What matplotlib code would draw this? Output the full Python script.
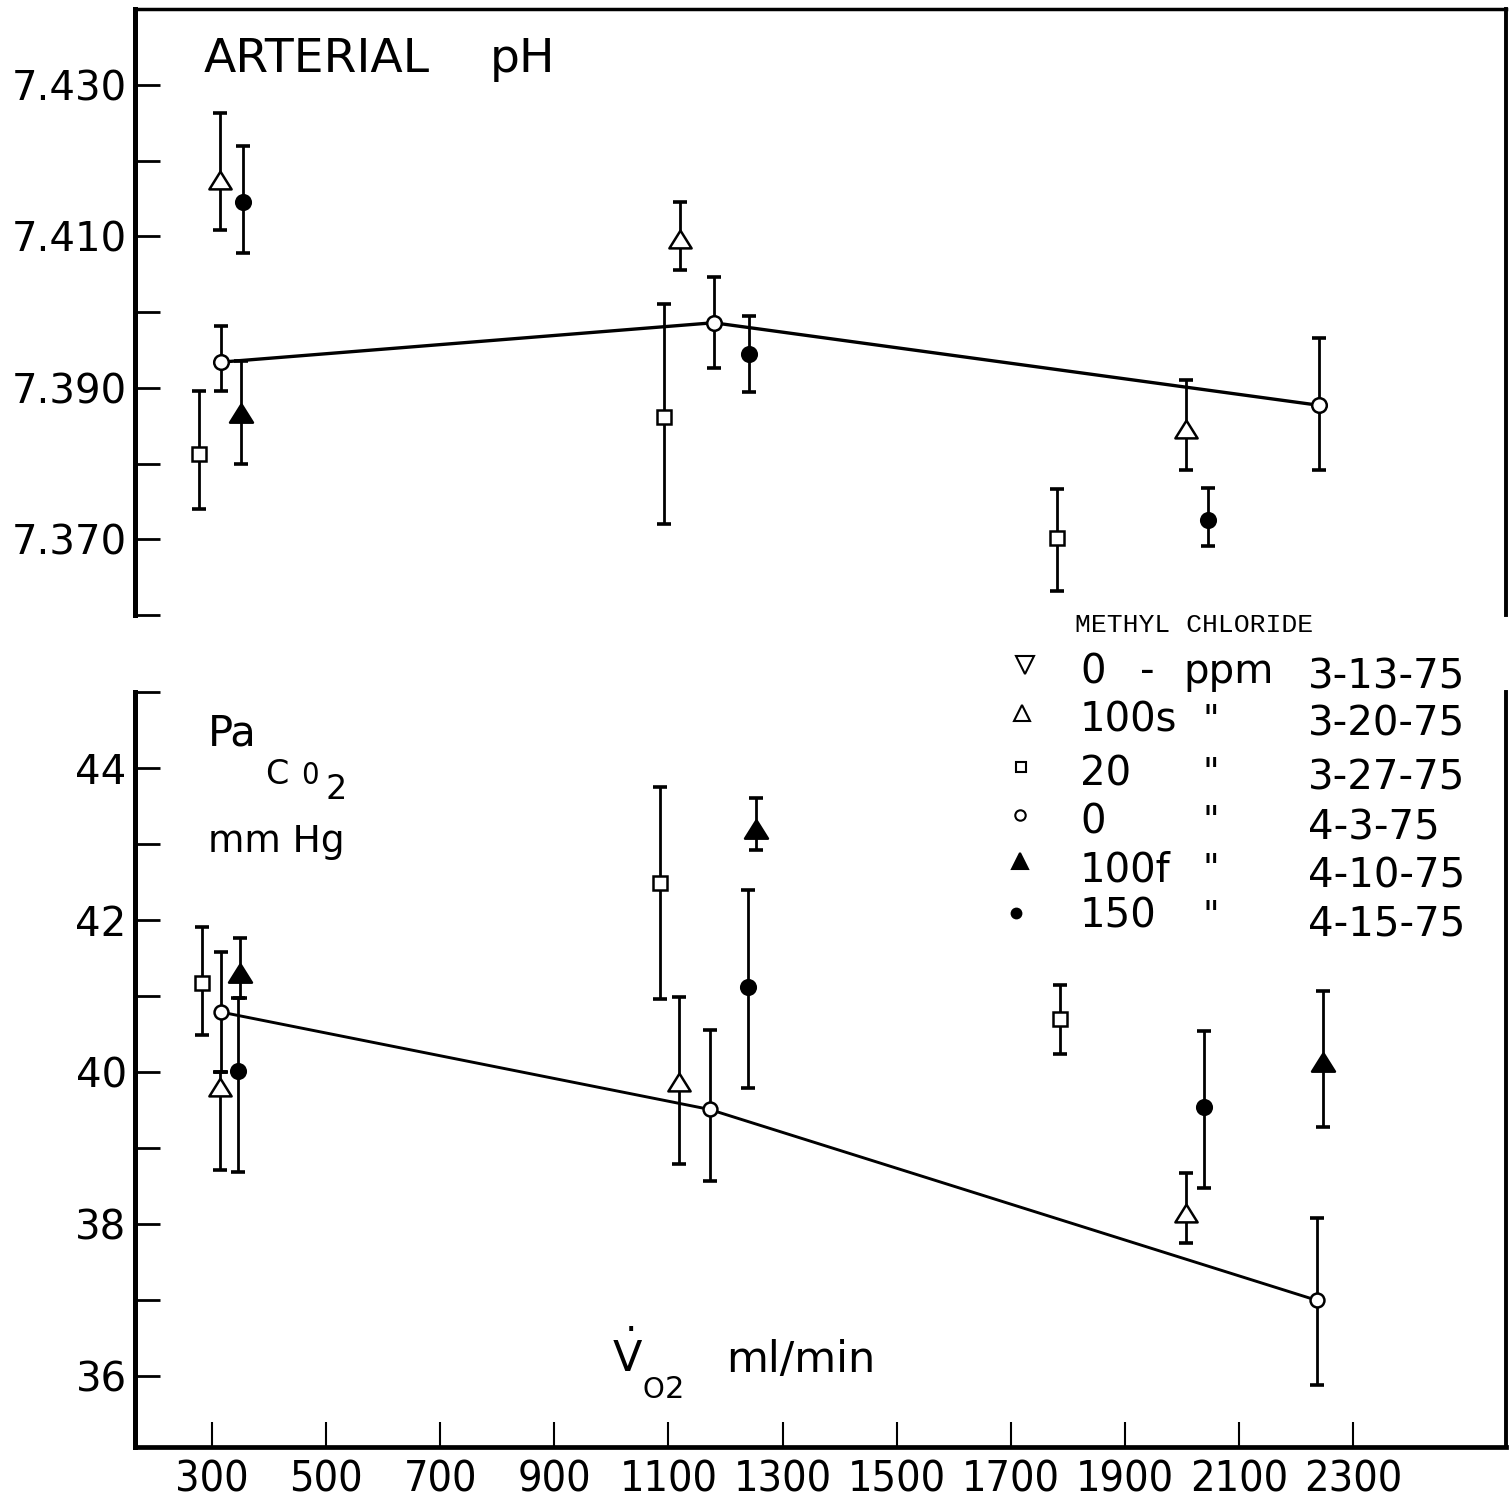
import matplotlib
matplotlib.use("Agg")
import matplotlib.pyplot as plt
from matplotlib import font_manager
from matplotlib.lines import Line2D
import numpy as np

# ---------------- data ----------------
# Arterial pH panel: x = VO2 (ml/min), y = mean, lo/hi = error bar ends
ph_sq_x = [277, 1093, 1781]          # 20 ppm, 3-27-75
ph_sq_y = [7.3813, 7.3861, 7.3702]
ph_sq_lo = [7.3740, 7.3720, 7.3632]
ph_sq_hi = [7.3896, 7.4011, 7.3766]

ph_otri_x = [314, 1120, 2007]        # 100s ppm, 3-20-75
ph_otri_y = [7.4175, 7.4097, 7.3846]
ph_otri_lo = [7.4108, 7.4056, 7.3791]
ph_otri_hi = [7.4263, 7.4145, 7.3911]

ph_ocir_x = [316, 1179, 2240]        # 0 ppm, 4-3-75
ph_ocir_y = [7.3934, 7.3986, 7.3877]
ph_ocir_lo = [7.3896, 7.3926, 7.3791]
ph_ocir_hi = [7.3982, 7.4046, 7.3966]

ph_ftri_x = [351]                    # 100f ppm, 4-10-75
ph_ftri_y = [7.3867]
ph_ftri_lo = [7.3799]
ph_ftri_hi = [7.3936]

ph_fcir_x = [354, 1242, 2046]        # 150 ppm, 4-15-75
ph_fcir_y = [7.4146, 7.3945, 7.3725]
ph_fcir_lo = [7.4078, 7.3894, 7.3691]
ph_fcir_hi = [7.4219, 7.3995, 7.3768]

# PaCO2 panel (mm Hg)
co2_sq_x = [282, 1086, 1786]
co2_sq_y = [41.17, 42.49, 40.70]
co2_sq_lo = [40.49, 40.96, 40.24]
co2_sq_hi = [41.91, 43.75, 41.15]

co2_otri_x = [314, 1118, 2008]
co2_otri_y = [39.80, 39.87, 38.15]
co2_otri_lo = [38.71, 38.79, 37.75]
co2_otri_hi = [40.00, 40.99, 38.67]

co2_ocir_x = [316, 1172, 2236]
co2_ocir_y = [40.79, 39.51, 37.00]
co2_ocir_lo = [40.00, 38.57, 35.89]
co2_ocir_hi = [41.58, 40.56, 38.08]

co2_ftri_x = [349, 1253, 2247]
co2_ftri_y = [41.31, 43.20, 40.13]
co2_ftri_lo = [40.97, 42.92, 39.28]
co2_ftri_hi = [41.76, 43.61, 41.07]

co2_fcir_x = [345, 1240, 2039]
co2_fcir_y = [40.02, 41.12, 39.54]
co2_fcir_lo = [38.69, 39.79, 38.47]
co2_fcir_hi = [40.97, 42.40, 40.54]

ph_ticks = [7.36, 7.37, 7.38, 7.39, 7.40, 7.41, 7.42, 7.43]
ph_labels = ["", "7.370", "", "7.390", "", "7.410", "", "7.430"]
co2_ticks = [36, 37, 38, 39, 40, 41, 42, 43, 44, 45]
co2_labels = ["36", "", "38", "", "40", "", "42", "", "44", ""]
vo2_ticks = [300, 500, 700, 900, 1100, 1300, 1500, 1700, 1900, 2100, 2300]
vo2_labels = [str(v) for v in vo2_ticks]

legend_title = "METHYL CHLORIDE"
legend_dose = ["0", "100s", "20", "0", "100f", "150"]
legend_dates = ["3-13-75", "3-20-75", "3-27-75", "4-3-75", "4-10-75", "4-15-75"]

# ---------------- fonts ----------------
names = {f.name for f in font_manager.fontManager.ttflist}
if "Liberation Sans Narrow" in names:
    narrow = dict(family="Liberation Sans Narrow")
else:
    narrow = dict(family="DejaVu Sans", stretch="condensed")
mono = "Liberation Mono" if "Liberation Mono" in names else "DejaVu Sans Mono"
plt.rcParams["font.family"] = ["DejaVu Sans"]
plt.rcParams["mathtext.fontset"] = "dejavusans"

W, H = 1512, 1499
fig = plt.figure(figsize=(W / 100, H / 100), dpi=100)
fig.patch.set_facecolor("white")


def fx(x):
    return x / W


def fy(y):
    return 1 - y / H


XLIM = (165, 2568)
ax1 = fig.add_axes([fx(135), fy(615), fx(1506) - fx(135), fy(9.3) - fy(615)])
ax2 = fig.add_axes([fx(135), fy(1447), fx(1506) - fx(135), fy(692) - fy(1447)])

for ax in (ax1, ax2):
    ax.set_xlim(*XLIM)
    ax.set_facecolor("none")
    for s in ax.spines.values():
        s.set_color("black")
    ax.spines["left"].set_linewidth(3.6)
    ax.spines["right"].set_linewidth(2.8)
ax1.set_ylim(7.36, 7.44)
ax2.set_ylim(35.07, 45)
ax1.spines["bottom"].set_visible(False)
ax1.spines["top"].set_linewidth(2.5)
ax2.spines["top"].set_visible(False)
ax2.spines["bottom"].set_linewidth(3.4)

ax1.set_xticks([])
ax1.set_yticks(ph_ticks)
ax1.set_yticklabels(ph_labels)
ax2.set_yticks(co2_ticks)
ax2.set_yticklabels(co2_labels)
ax2.set_xticks(vo2_ticks)
ax2.set_xticklabels(vo2_labels, **narrow)

for ax in (ax1, ax2):
    ax.tick_params(axis="y", direction="in", length=18, width=2.0, pad=6,
                   labelsize=29, right=False)
ax2.tick_params(axis="x", direction="in", length=18, width=1.5, pad=8,
                labelsize=31, top=False)


def series(ax, x, y, lo, hi, marker, filled, ms, line=False, lw=2.2):
    x = np.asarray(x, float)
    y = np.asarray(y, float)
    err = [y - np.asarray(lo), np.asarray(hi) - y]
    ax.errorbar(x, y, yerr=err, fmt="none", ecolor="black", elinewidth=2.0,
                capsize=5, capthick=2.6, zorder=2)
    if line:
        ax.plot(x, y, color="black", lw=lw, zorder=3, solid_capstyle="round")
    ax.plot(x, y, linestyle="none", marker=marker, ms=ms,
            mfc="black" if filled else "white", mec="black", mew=1.8,
            zorder=4)


# slightly flattened, closed triangle outline
tri = [(0, 0.8), (-1, -0.8), (1, -0.8), (0, 0.8)]

series(ax1, ph_sq_x, ph_sq_y, ph_sq_lo, ph_sq_hi, "s", False, 9.5)
series(ax1, ph_otri_x, ph_otri_y, ph_otri_lo, ph_otri_hi, tri, False, 16)
series(ax1, ph_ocir_x, ph_ocir_y, ph_ocir_lo, ph_ocir_hi, "o", False, 10.5,
       line=True, lw=2.4)
series(ax1, ph_ftri_x, ph_ftri_y, ph_ftri_lo, ph_ftri_hi, tri, True, 16.5)
series(ax1, ph_fcir_x, ph_fcir_y, ph_fcir_lo, ph_fcir_hi, "o", True, 10.5)

series(ax2, co2_sq_x, co2_sq_y, co2_sq_lo, co2_sq_hi, "s", False, 9.5)
series(ax2, co2_otri_x, co2_otri_y, co2_otri_lo, co2_otri_hi, tri, False, 16)
series(ax2, co2_ocir_x, co2_ocir_y, co2_ocir_lo, co2_ocir_hi, "o", False, 10,
       line=True, lw=2.1)
series(ax2, co2_ftri_x, co2_ftri_y, co2_ftri_lo, co2_ftri_hi, tri, True, 16.5)
series(ax2, co2_fcir_x, co2_fcir_y, co2_fcir_lo, co2_fcir_hi, "o", True, 10.5)


# ---------------- panel titles ----------------
def txt(x, y, s, size, **kw):
    fig.text(fx(x), fy(y), s, fontsize=size, va="baseline", ha="left", **kw)


txt(204, 72, "ARTERIAL", 34)
txt(490, 72, "pH", 34)

txt(208, 746, "Pa", 30)
txt(265, 784, "C", 24)
txt(301, 784, "0", 22, **narrow)
txt(326, 799, "2", 24)
txt(208, 852, "mm Hg", 27)

txt(612, 1372, r"$\dot{\mathrm{V}}$", 31)
txt(643, 1398, "O", 20)
txt(665, 1398, "2", 22)
txt(726, 1372, "ml/min", 31)

# ---------------- legend ----------------
txt(1075, 632, legend_title, 19, family=mono)

row_base = [683, 732, 785, 833, 881, 928]
date_base = [688, 735, 790, 840, 888, 935]
mk_pos = [(1025, 665), (1022, 713), (1021, 767), (1020, 815), (1020, 861),
          (1016, 913)]
mk_style = [("v", False, 13), ("^", False, 12), ("s", False, 7),
            ("o", False, 7.5), ("^", True, 11), ("o", True, 7)]

for i in range(6):
    mx, my = mk_pos[i]
    m, filled, ms = mk_style[i]
    fig.add_artist(Line2D([fx(mx)], [fy(my)], transform=fig.transFigure,
                          marker=m, ms=ms, mew=1.5, mec="black",
                          mfc="black" if filled else "white",
                          linestyle="none"))
    txt(1080, row_base[i], legend_dose[i], 29)
    if i == 0:
        txt(1140, row_base[i], "-", 29)
        txt(1183, row_base[i], "ppm", 29)
    else:
        txt(1203, row_base[i] - 2, "\"", 26)
    txt(1308, date_base[i], legend_dates[i], 29)

fig.savefig("out.png", dpi=100, facecolor="white")
